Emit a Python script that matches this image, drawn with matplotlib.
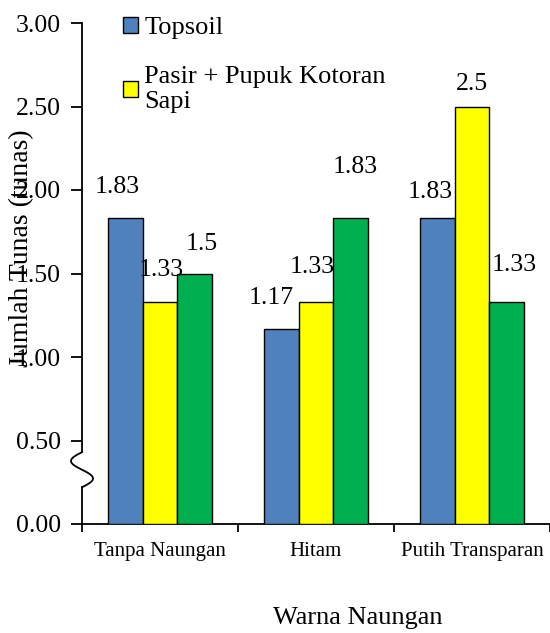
import numpy as np
import matplotlib
matplotlib.use("Agg")
import matplotlib.pyplot as plt
from matplotlib.patches import Patch
from matplotlib.transforms import blended_transform_factory

plt.rcParams['font.family'] = ['Liberation Serif', 'DejaVu Serif']

categories = ["Tanpa Naungan", "Hitam", "Putih Transparan"]
series_names = ["Topsoil", "Pasir + Pupuk Kotoran\nSapi", ""]
topsoil = [1.83, 1.17, 1.83]
pasir_pupuk = [1.33, 1.33, 2.5]
third = [1.5, 1.83, 1.33]
value_labels = [["1.83", "1.17", "1.83"], ["1.33", "1.33", "2.5"], ["1.5", "1.83", "1.33"]]
yticks = [0.0, 0.5, 1.0, 1.5, 2.0, 2.5, 3.0]
ytick_labels = ["0.00", "0.50", "1.00", "1.50", "2.00", "2.50", "3.00"]
colors = ["#4F81BD", "#FFFF00", "#00B050"]

# label offsets (pixels) relative to the top-centre of each bar
label_offsets = [
    [(-8, 31), (-10, 31), (-7, 26)],
    [(1, 32), (-4, 35), (0, 22)],
    [(7, 30), (4, 51), (7, 37)],
]

W, H = 550, 633
fig = plt.figure(figsize=(W / 100, H / 100), dpi=100)
ax = fig.add_axes([82 / W, (H - 524) / H, (550 - 82) / W, (524 - 23) / H])

x = np.arange(len(categories))
bw = 0.223
data = [topsoil, pasir_pupuk, third]
for i, vals in enumerate(data):
    b = ax.bar(x + (i - 1) * bw, vals, width=bw, color=colors[i],
               edgecolor="black", linewidth=1.0, zorder=3)
    for j, rect in enumerate(b):
        dx, dy = label_offsets[i][j]
        ax.annotate(value_labels[i][j],
                    (rect.get_x() + rect.get_width() / 2, rect.get_height()),
                    xytext=(dx, dy), textcoords="offset pixels",
                    ha="center", va="center", fontsize=18.5, zorder=4)

ax.set_xlim(-0.5, -0.5 + 468 / 157)
ax.set_ylim(0, 3.0)

for s in ["top", "right", "left"]:
    ax.spines[s].set_visible(False)
ax.spines["bottom"].set_linewidth(1.3)

# y axis with break
tr = blended_transform_factory(ax.transAxes, ax.transData)
ax.plot([0, 0], [0, 0.22], color="black", lw=1.3, transform=tr, clip_on=False)
ax.plot([0, 0], [0.43, 3.0], color="black", lw=1.3, transform=tr, clip_on=False)
t = np.linspace(0, 1, 60)
ys = 0.43 - (0.43 - 0.22) * t
xs = -(11 / 468) * np.sin(2 * np.pi * t)
ax.plot(xs, ys, color="black", lw=1.3, transform=tr, clip_on=False)

ax.set_yticks(yticks)
ax.set_yticklabels(ytick_labels, fontsize=18.5)
ax.tick_params(axis="y", direction="out", length=8, width=1.3, pad=7, left=True)

ax.set_xticks([-0.5, 0.5, 1.5, 2.5])
ax.set_xticklabels([])
ax.tick_params(axis="x", which="major", direction="out", length=6, width=1.3)
ax.set_xticks(x, minor=True)
ax.set_xticklabels(categories, minor=True, fontsize=15)
ax.tick_params(axis="x", which="minor", length=0, pad=13)

fig.text(22 / W, (H - 248) / H, "Jumlah Tunas (tunas)", rotation=90,
         ha="center", va="center", fontsize=20)
fig.text(358 / W, (H - 618) / H, "Warna Naungan", ha="center", va="center", fontsize=19)

handles = [Patch(facecolor=colors[0], edgecolor="black", linewidth=1.0),
           Patch(facecolor=colors[1], edgecolor="black", linewidth=1.0)]
fig.legend(handles, series_names[:2], loc="upper left",
           bbox_to_anchor=(110 / W, (H - 4) / H), frameon=False, fontsize=19,
           handlelength=0.55, handleheight=0.55, handletextpad=0.25,
           labelspacing=1.0, borderpad=0.0)

fig.savefig("out.png", dpi=100)
